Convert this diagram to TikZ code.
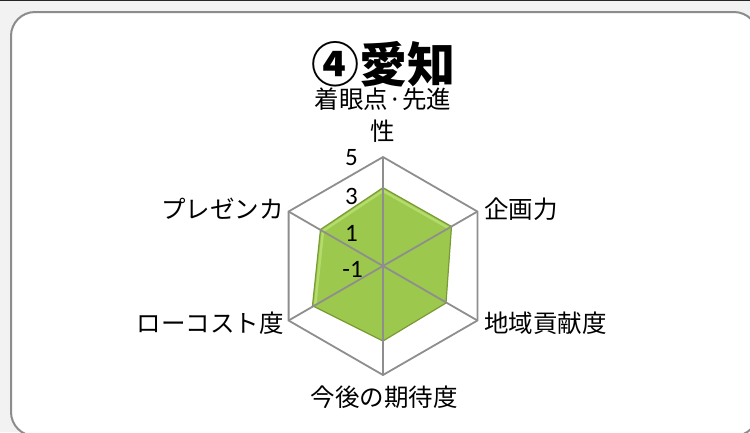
\documentclass[tikz,border=0pt]{standalone}
\usepackage{fontspec}
\newfontfamily\jp{Noto Sans CJK JP}
\newfontfamily\numf{Carlito}
\usetikzlibrary{calc}
\definecolor{bgout}{HTML}{F2F2F2}
\definecolor{frame}{HTML}{8C8C8C}
\definecolor{gridc}{HTML}{8E8E8E}
\definecolor{greenf}{HTML}{9CC84E}
\definecolor{greend}{HTML}{7A9A34}
\definecolor{greenl}{HTML}{B4DC6A}
\tikzset{
  axlbl/.style={font=\jp\fontsize{24.5}{27}\selectfont, inner sep=0pt},
  numlbl/.style={font=\numf\fontsize{25}{27}\selectfont, inner sep=0pt, anchor=east},
  gridln/.style={draw=gridc, line width=1.8pt},
}
\begin{document}
\begin{tikzpicture}[x=1pt,y=-1pt]
\useasboundingbox (0,0) rectangle (750,432);
\clip (0,0) rectangle (750,432);
\fill[bgout] (0,0) rectangle (750,432);
\draw[black!85, line width=1pt] (0,0.5) -- (750,0.5);
\draw[frame, fill=white, line width=2pt, rounded corners=24pt] (11,12) rectangle (758,436);
% centre and axes
\coordinate (c) at (383,266);
\path (c) ++(0,-109) coordinate (v0);
\path (c) ++(94.4,-54.5) coordinate (v1);
\path (c) ++(94.4,54.5) coordinate (v2);
\path (c) ++(0,109) coordinate (v3);
\path (c) ++(-94.4,54.5) coordinate (v4);
\path (c) ++(-94.4,-54.5) coordinate (v5);
% data polygon
\path (c) ++(0,-78.3) coordinate (d0);
\path (c) ++(68.5,-39.5) coordinate (d1);
\path (c) ++(63,37) coordinate (d2);
\path (c) ++(0,75) coordinate (d3);
\path (c) ++(-70.5,39.7) coordinate (d4);
\path (c) ++(-62.5,-36.5) coordinate (d5);
\fill[greenf] (d0) -- (d1) -- (d2) -- (d3) -- (d4) -- (d5) -- cycle;
\draw[greenl, line width=2.5pt, line join=round] ($(d4)!0.04!(c)$) -- ($(d5)!0.04!(c)$) -- ($(d0)!0.04!(c)$) -- ($(d1)!0.04!(c)$);
\draw[greend, line width=1.2pt, line join=round] (d0) -- (d1) -- (d2) -- (d3) -- (d4) -- (d5) -- cycle;
% grid
\draw[gridln, line join=miter] (v0) -- (v1) -- (v2) -- (v3) -- (v4) -- (v5) -- cycle;
\draw[gridln] (v0) -- (v3);
\draw[gridln] (v1) -- (v4);
\draw[gridln] (v2) -- (v5);
% scale labels
\node[numlbl] (n5) at (358,158) {5};
\node[numlbl] (n3) at (358,196) {3};
\node[numlbl] (n1) at (358,233) {1};
\node[numlbl] (nm1) at (363,269) {-1};
% title
\node[font=\jp\bfseries\fontsize{48}{52}\selectfont, inner sep=0pt] (title) at (383,64) {④愛知};
\node[axlbl] (l0a) at (383,99) {着眼点·先進};
\node[axlbl] (l0b) at (383,131) {性};
\node[axlbl, anchor=west] (l1) at (484,209) {企画力};
\node[axlbl, anchor=west] (l2) at (484,323) {地域貢献度};
\node[axlbl] (l3) at (384,397) {今後の期待度};
\node[axlbl, anchor=east] (l4) at (284,323) {ローコスト度};
\node[axlbl, anchor=east] (l5) at (284,209) {プレゼンカ};
\end{tikzpicture}
\end{document}
